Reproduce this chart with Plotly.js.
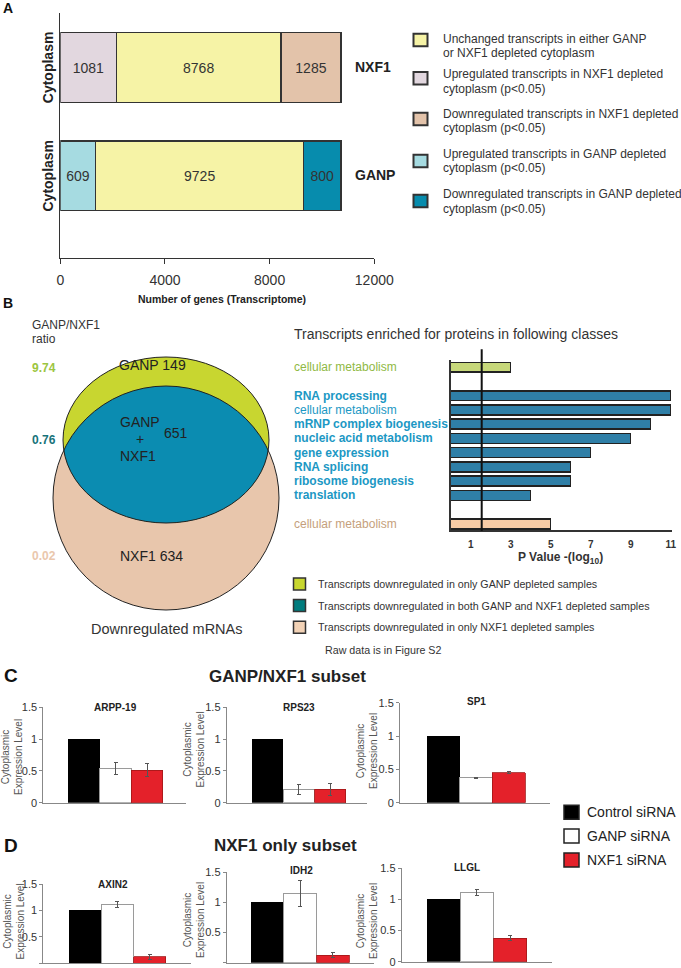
<!DOCTYPE html>
<html><head><meta charset="utf-8">
<script src="https://cdn.plot.ly/plotly-3.0.1.min.js"></script>
<style>html,body{margin:0;padding:0;background:#fff;}#chart{width:681px;height:968px;}</style>
</head><body><div id="chart"></div>
<script>
// ---------------- DATA ----------------
// Panel A: stacked bars (drawn segment lengths) and their printed counts
const aRows = ['GANP', 'NXF1'];
const aUpLen = [1355, 2144];
const aUnchangedLen = [7947, 6292];
const aDownLen = [1423, 2289];
const aUpLabel = ['609', '1081'];
const aUnchangedLabel = ['9725', '8768'];
const aDownLabel = ['800', '1285'];
const aTicks = [0, 4000, 8000, 12000];
const aLegendText = [
  ['Unchanged transcripts in either GANP', 'or NXF1 depleted cytoplasm'],
  ['Upregulated transcripts in NXF1 depleted', 'cytoplasm (p&lt;0.05)'],
  ['Downregulated transcripts in NXF1 depleted', 'cytoplasm (p&lt;0.05)'],
  ['Upregulated transcripts in GANP depleted', 'cytoplasm (p&lt;0.05)'],
  ['Downregulated transcripts in GANP depleted', 'cytoplasm (p&lt;0.05)']
];

// Panel B: Venn counts and ratios
const vennCounts = {ganpOnly: 149, both: 651, nxf1Only: 634};
const vennRatios = ['9.74', '0.76', '0.02'];

// Panel B: enrichment classes
const bClasses = ['cellular metabolism', 'RNA processing', 'cellular metabolism', 'mRNP complex biogenesis',
  'nucleic acid metabolism', 'gene expression', 'RNA splicing', 'ribosome biogenesis', 'translation', 'cellular metabolism'];
const bGroups = ['ganp', 'both', 'both', 'both', 'both', 'both', 'both', 'both', 'both', 'nxf1'];
const bValues = [3, 11, 11, 10, 9, 7, 6, 6, 4, 5];
const bBold = [false, true, false, true, true, true, true, true, true, false];
const bThreshold = 1.55;
const bTicks = [1, 3, 5, 7, 9, 11];
const bLegendText = ['Transcripts downregulated in only GANP depleted samples',
  'Transcripts downregulated in both GANP and NXF1 depleted samples',
  'Transcripts downregulated in only NXF1 depleted samples'];

// Panels C & D: qPCR validation
const genes = ['ARPP-19', 'RPS23', 'SP1', 'AXIN2', 'IDH2', 'LLGL'];
const controlVals = [1, 1, 1, 1, 1, 1];
const ganpVals = [0.54, 0.21, 0.375, 1.11, 1.15, 1.11];
const ganpErr = [0.09, 0.08, 0.01, 0.055, 0.21, 0.05];
const nxf1Vals = [0.51, 0.21, 0.45, 0.125, 0.125, 0.375];
const nxf1Err = [0.10, 0.09, 0.015, 0.045, 0.04, 0.04];
const siLegend = ['Control siRNA', 'GANP siRNA', 'NXF1 siRNA'];
const cdTicks = [0, 0.5, 1, 1.5];

// ---------------- LAYOUT HELPERS ----------------
const W = 681, H = 968;
const px = x => x / W, py = y => 1 - y / H;
const FONT = 'Liberation Sans, Arial, Helvetica, sans-serif';
const annotations = [];
const shapes = [];
function ann(text, x, y, o) {
  o = o || {};
  annotations.push({text: text, x: px(x), y: py(y), xref: 'paper', yref: 'paper', showarrow: false,
    xanchor: o.xanchor || 'left', yanchor: 'middle', textangle: o.angle || 0, align: o.align || 'left',
    font: {family: o.family || FONT, size: o.size || 12, color: o.color || '#333', weight: o.bold ? 'bold' : 'normal'}});
}
function box(x0, x1, yc, h, fill, lw, lc) {
  shapes.push({type: 'rect', xref: 'paper', yref: 'paper', x0: px(x0), x1: px(x1), y0: py(yc + h / 2), y1: py(yc - h / 2),
    fillcolor: fill, line: {color: lc || '#333', width: lw}});
}

const data = [];
const layout = {width: W, height: H, margin: {l: 0, r: 0, t: 0, b: 0}, paper_bgcolor: '#fff', plot_bgcolor: 'rgba(0,0,0,0)',
  showlegend: false, barmode: 'stack', hovermode: false, font: {family: FONT, color: '#333'}};

// ---------------- PANEL A ----------------
const aY = aRows.map((_, i) => i);
const aSeg = {orientation: 'h', type: 'bar', y: aY, width: 0.643, xaxis: 'x', yaxis: 'y', textposition: 'inside',
  insidetextanchor: 'middle', textangle: 0, constraintext: 'none', textfont: {size: 14, color: '#333', family: FONT}};
data.push(Object.assign({}, aSeg, {x: aUpLen, text: aUpLabel, marker: {color: ['#a6dbe1', '#e2d7df'], line: {color: '#333', width: 1.3}}}));
data.push(Object.assign({}, aSeg, {x: aUnchangedLen, text: aUnchangedLabel, marker: {color: '#f6f3a6', line: {color: '#333', width: 1.3}}}));
data.push(Object.assign({}, aSeg, {x: aDownLen, text: aDownLabel, marker: {color: ['#078cad', '#e3c3aa'], line: {color: '#333', width: 1.3}}}));
layout.xaxis = {domain: [px(60.3), px(374.3)], range: [0, 12000], anchor: 'y', tickvals: aTicks, ticktext: aTicks.map(String),
  ticks: 'outside', ticklen: 5, tickcolor: '#333', showline: true, linecolor: '#333', linewidth: 1.5,
  tickfont: {size: 14, color: '#333'}, ticklabelstandoff: 4, showgrid: false, zeroline: false, fixedrange: true};
layout.yaxis = {domain: [py(257.7), py(12.7)], range: [-0.756, 1.506], anchor: 'x', showline: true, linecolor: '#333',
  linewidth: 1.5, showticklabels: false, ticks: '', showgrid: false, zeroline: false, fixedrange: true};
ann('A', 1, 8, {bold: true, size: 14, color: '#111'});
ann('Cytoplasm', 47.7, 67.5, {angle: -90, xanchor: 'center', bold: true, size: 14, color: '#222'});
ann('Cytoplasm', 47.7, 175.8, {angle: -90, xanchor: 'center', bold: true, size: 14, color: '#222'});
ann('NXF1', 353.3, 66.7, {bold: true, size: 14, color: '#222'});
ann('GANP', 353.3, 175, {bold: true, size: 14, color: '#222'});
ann('Number of genes (Transcriptome)', 222, 299, {xanchor: 'center', bold: true, size: 10.5, color: '#222'});
const aLegColors = ['#f6f3a6', '#e2d7df', '#e3c3aa', '#a6dbe1', '#078cad'];
const aLegSq = [40, 78.3, 119, 161, 201];
const aLegLines = [[39.3, 53.3], [73.7, 89.3], [114, 128.3], [154, 168.3], [194.3, 209]];
aLegendText.forEach((lines, i) => {
  box(413.5, 427.5, aLegSq[i], 12.5, aLegColors[i], 2, '#333');
  lines.forEach((t, j) => ann(t, 440.7, aLegLines[i][j], {size: 12, color: '#333'}));
});

// ---------------- PANEL B : Venn ----------------
ann('B', 1, 303, {bold: true, size: 14, color: '#111'});
ann('GANP/NXF1', 30, 325, {size: 12});
ann('ratio', 30, 339, {size: 12});
const ratioColors = ['#9cc541', '#17737a', '#eac7ad'];
const ratioY = [368, 440, 556];
vennRatios.forEach((r, i) => ann(r, 30, ratioY[i], {bold: true, size: 12, color: ratioColors[i]}));
const G = {cx: 166, cy: 440, rx: 103, ry: 83};
const P = {cx: 166, cy: 498, rx: 113, ry: 112};
const ell = (e, col, fill, lw) => shapes.push({type: 'circle', xref: 'paper', yref: 'paper', x0: px(e.cx - e.rx), x1: px(e.cx + e.rx),
  y0: py(e.cy + e.ry), y1: py(e.cy - e.ry), fillcolor: fill, line: {color: col, width: lw}});
ell(P, '#222', '#e8c6ac', 0);
ell(G, '#222', '#c8d630', 0);
// intersection lens
(function () {
  const top = [], bot = [];
  const span = (e, x) => { const u = (x - e.cx) / e.rx; if (Math.abs(u) > 1) return null; const d = e.ry * Math.sqrt(1 - u * u); return [e.cy - d, e.cy + d]; };
  const x0 = G.cx - G.rx, x1 = G.cx + G.rx;
  for (let k = 0; k <= 600; k++) {
    const x = x0 + (x1 - x0) * k / 600;
    const a = span(G, x), b = span(P, x);
    if (!a || !b) continue;
    const t = Math.max(a[0], b[0]), bt = Math.min(a[1], b[1]);
    if (t < bt) { top.push([x, t]); bot.push([x, bt]); }
  }
  const pts = top.concat(bot.reverse());
  const path = 'M' + pts.map(p => px(p[0]).toFixed(5) + ',' + py(p[1]).toFixed(5)).join('L') + 'Z';
  shapes.push({type: 'path', xref: 'paper', yref: 'paper', path: path, fillcolor: '#0b8cb1', line: {width: 0}});
})();
ell(P, '#222', 'rgba(0,0,0,0)', 1);
ell(G, '#222', 'rgba(0,0,0,0)', 1);
ann('GANP ' + vennCounts.ganpOnly, 117, 365, {size: 14, color: '#222'});
ann('GANP', 118, 421.7, {size: 14, color: '#222'});
ann('+', 140, 439.3, {size: 14, color: '#222', xanchor: 'center'});
ann('NXF1', 118, 456, {size: 14, color: '#222'});
ann(String(vennCounts.both), 162, 433.3, {size: 14, color: '#222'});
ann('NXF1 ' + vennCounts.nxf1Only, 118, 556, {size: 14, color: '#222'});
ann('Downregulated mRNAs', 166.7, 629.3, {size: 14.5, xanchor: 'center', color: '#333'});

// ---------------- PANEL B : enrichment bars ----------------
const groupOrder = ['ganp', 'both', 'nxf1'];
const bSlot = bGroups.map((g, i) => i + groupOrder.indexOf(g));
const bBarColor = {ganp: '#c7d87a', both: '#2f7fa7', nxf1: '#f7cba5'};
const bTextColor = {ganp: '#8fb944', both: '#1c98c4', nxf1: '#c59f7c'};
data.push({type: 'bar', orientation: 'h', x: bValues, y: bSlot, width: 0.7, xaxis: 'x2', yaxis: 'y2',
  marker: {color: bGroups.map(g => bBarColor[g]), line: {color: '#222', width: 1.5}}});
layout.xaxis2 = {domain: [px(450.7), px(671.7)], range: [0, 11.05], anchor: 'y2', tickvals: bTicks, ticktext: bTicks.map(String), ticks: '',
  showline: true, linecolor: '#333', linewidth: 1.5, tickfont: {size: 10, color: '#333', weight: 'bold'},
  ticklabelstandoff: 4, showgrid: false, zeroline: false, fixedrange: true};
layout.yaxis2 = {domain: [py(530), py(360)], range: [11.43, -0.51], anchor: 'x2', showline: true, linecolor: '#333',
  linewidth: 1.5, showticklabels: false, ticks: '', showgrid: false, zeroline: false, fixedrange: true};
bClasses.forEach((c, i) => annotations.push({text: c, x: px(291.7), xref: 'paper', y: bSlot[i], yref: 'y2', showarrow: false,
  xanchor: 'left', yanchor: 'middle', font: {family: FONT, size: 12, color: bTextColor[bGroups[i]], weight: bBold[i] ? 'bold' : 'normal'}}));
shapes.push({type: 'line', xref: 'x2', yref: 'paper', x0: bThreshold, x1: bThreshold, y0: py(531), y1: py(349.3), line: {color: '#111', width: 2}});
ann('Transcripts enriched for proteins in following classes', 291.7, 334, {size: 14, color: '#333'});
ann('P Value -(log<sub>10</sub>)', 560.8, 558.3, {xanchor: 'center', bold: true, size: 12, color: '#333'});
const bLegColors = ['#c8d72f', '#007c7e', '#f2d2b6'];
const bLegY = [584, 605.5, 627.3];
bLegendText.forEach((t, i) => { box(293.5, 305.5, bLegY[i], 12, bLegColors[i], 1.5, '#333'); ann(t, 316, bLegY[i], {size: 10.7, color: '#333'}); });
ann('Raw data is in Figure S2', 322.7, 650, {size: 10.7, color: '#333'});

// ---------------- PANELS C & D ----------------
ann('C', 2, 675, {bold: true, size: 19, color: '#111'});
ann('GANP/NXF1 subset', 207.3, 676, {bold: true, size: 17, color: '#222'});
ann('D', 2, 845, {bold: true, size: 19, color: '#111'});
ann('NXF1 only subset', 211.7, 845, {bold: true, size: 17, color: '#222'});
const geo = [
  {left: 43.3, right: 186, zero: 802.7, top: 707.3, bar0: 68.3, bw: 31.5, tx: 115.3, ty: 707.3, yx: 12, yy: 757},
  {left: 226.7, right: 366.7, zero: 802.7, top: 707.3, bar0: 251.7, bw: 31.4, tx: 299, ty: 707.3, yx: 193.5, yy: 750},
  {left: 400, right: 550, zero: 802.7, top: 702.7, bar0: 426.7, bw: 32.8, tx: 476, ty: 701.7, yx: 367, yy: 751},
  {left: 43.3, right: 190.7, zero: 963.3, top: 884, bar0: 69, bw: 32.3, tx: 113.3, ty: 884, yx: 13.5, yy: 922},
  {left: 226.7, right: 374, zero: 962.7, top: 872.3, bar0: 250.7, bw: 32.9, tx: 301.7, ty: 870.7, yx: 194, yy: 920},
  {left: 401.7, right: 551.7, zero: 961.7, top: 868.3, bar0: 427.3, bw: 33.1, tx: 466.7, ty: 867.7, yx: 367, yy: 921}
];
genes.forEach((gname, i) => {
  const n = i + 3, xa = 'x' + n, ya = 'y' + n, g = geo[i];
  data.push({type: 'bar', x: [0], y: [controlVals[i]], width: 1, xaxis: xa, yaxis: ya, marker: {color: '#000', line: {width: 0}}});
  data.push({type: 'bar', x: [1], y: [ganpVals[i]], width: 1, xaxis: xa, yaxis: ya, marker: {color: '#fff', line: {color: '#9a9a9a', width: 1}},
    error_y: {type: 'data', array: [ganpErr[i]], color: '#555', thickness: 1, width: 2}});
  data.push({type: 'bar', x: [2], y: [nxf1Vals[i]], width: 1, xaxis: xa, yaxis: ya, marker: {color: '#e4212a', line: {color: '#a01818', width: 0.8}},
    error_y: {type: 'data', array: [nxf1Err[i]], color: '#555', thickness: 1, width: 2}});
  layout['xaxis' + n] = {domain: [px(g.left), px(g.right)], range: [(g.left - g.bar0) / g.bw - 0.5, (g.right - g.bar0) / g.bw - 0.5],
    anchor: ya, showline: true, linecolor: '#888', linewidth: 1, showticklabels: false, ticks: '', showgrid: false, zeroline: false, fixedrange: true};
  layout['yaxis' + n] = {domain: [py(g.zero), py(g.top)], range: [0, 1.5], anchor: xa, tickvals: cdTicks, ticktext: cdTicks.map(String),
    ticks: 'outside', ticklen: 3, tickcolor: '#888', showline: true, linecolor: '#888', linewidth: 1,
    tickfont: {size: 11, color: '#333'}, showgrid: false, zeroline: false, fixedrange: true};
  ann(gname, g.tx, g.ty, {xanchor: 'center', bold: true, size: 10, color: '#222'});
  ann('Cytoplasmic<br>Expression Level', g.yx, g.yy, {xanchor: 'center', align: 'center', angle: -90, size: 10, color: '#555'});
});
const siColors = ['#000', '#fff', '#e4212a'];
const siY = [812.3, 836, 860];
siLegend.forEach((t, i) => { box(564, 579, siY[i], 14, siColors[i], 1.5, '#222'); ann(t, 585, siY[i], {size: 14, color: '#222'}); });

layout.annotations = annotations;
layout.shapes = shapes;
Plotly.newPlot('chart', data, layout, {displayModeBar: false, staticPlot: true});
</script></body></html>
